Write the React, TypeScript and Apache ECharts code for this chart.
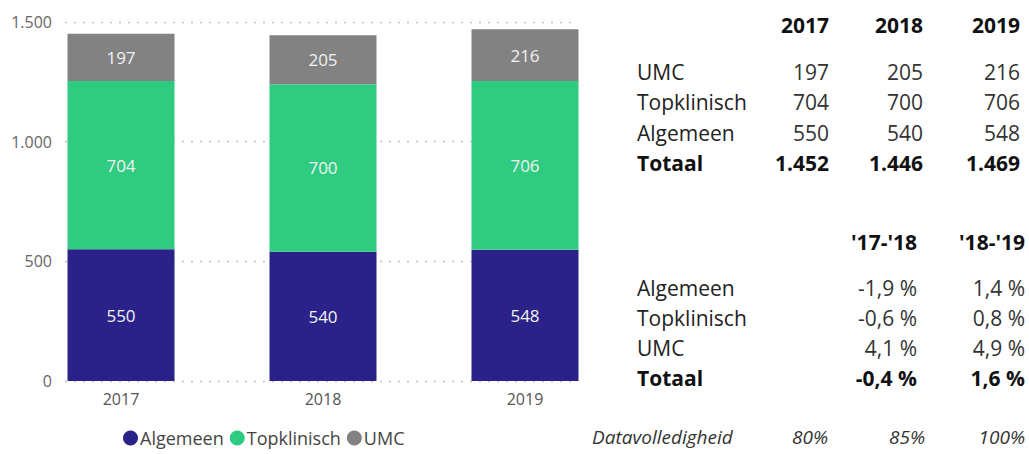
import React, { useEffect, useRef } from "react";
import * as echarts from "echarts";

const categories = ["2017", "2018", "2019"];
const algemeen = [550, 540, 548];
const topklinisch = [704, 700, 706];
const umc = [197, 205, 216];
const yTicks = [0, 500, 1000, 1500];

const tableYears = ["2017", "2018", "2019"];
const tableRows = ["UMC", "Topklinisch", "Algemeen"];
const tableRowValues = [
  ["197", "205", "216"],
  ["704", "700", "706"],
  ["550", "540", "548"],
];
const tableTotals = ["1.452", "1.446", "1.469"];

const changeHeaders = ["'17-'18", "'18-'19"];
const changeRows = ["Algemeen", "Topklinisch", "UMC"];
const changeValues = [
  ["-1,9 %", "1,4 %"],
  ["-0,6 %", "0,8 %"],
  ["4,1 %", "4,9 %"],
];
const changeTotals = ["-0,4 %", "1,6 %"];
const completenessLabel = "Datavolledigheid";
const completeness = ["80%", "85%", "100%"];

const FONT = "'Open Sans', 'Noto Sans', sans-serif";
const COLORS = ["#2a2288", "#2ecb80", "#828282"];

export default function App() {
  const ref = useRef<HTMLDivElement>(null);
  useEffect(() => {
    if (!ref.current) return;
    const chart = echarts.init(ref.current, undefined, { renderer: "svg" });

    const graphics: any[] = [];
    const txt = (x: number, y: number, text: string, opts: any = {}) =>
      graphics.push({
        type: "text",
        x,
        y,
        style: {
          text,
          fontStyle: opts.italic ? "italic" : "normal",
          fontWeight: opts.weight || "normal",
          fontSize: opts.size || 21,
          fontFamily: FONT,
          fill: opts.color || "#222",
          align: opts.align || "left",
          verticalAlign: "middle",
        },
      });

    const colRight = [829, 923, 1020];
    const labelX = 637;
    tableYears.forEach((y, i) => txt(colRight[i], 25, y, { weight: "bold", align: "right", color: "#111" }));
    const rowY = [72, 102, 133];
    tableRows.forEach((r, ri) => {
      txt(labelX, rowY[ri], r, { color: "#222" });
      tableRowValues[ri].forEach((v, ci) => txt(colRight[ci], rowY[ri], v, { align: "right", color: "#333" }));
    });
    txt(labelX, 163, "Totaal", { weight: "bold", color: "#111" });
    tableTotals.forEach((v, ci) => txt(colRight[ci], 163, v, { weight: "bold", align: "right", color: "#111" }));

    const chRight = [917, 1025];
    changeHeaders.forEach((h, i) => txt(chRight[i], 242, h, { weight: "bold", align: "right", color: "#111" }));
    const chY = [288, 318, 348];
    changeRows.forEach((r, ri) => {
      txt(labelX, chY[ri], r, { color: "#222" });
      changeValues[ri].forEach((v, ci) => txt(chRight[ci], chY[ri], v, { align: "right", color: "#333" }));
    });
    txt(labelX, 378, "Totaal", { weight: "bold", color: "#111" });
    changeTotals.forEach((v, ci) => txt(chRight[ci], 378, v, { weight: "bold", align: "right", color: "#111" }));

    txt(592, 437, completenessLabel, { italic: true, size: 19, color: "#333" });
    const compRight = [828, 925, 1025];
    completeness.forEach((v, ci) => txt(compRight[ci], 437, v, { italic: true, size: 19, align: "right", color: "#333" }));

    const labelStyle = {
      show: true,
      position: "inside" as const,
      color: "#f2f2f2",
      fontSize: 17,
      fontFamily: FONT,
    };

    chart.setOption({
      animation: false,
      textStyle: { fontFamily: FONT },
      color: COLORS,
      grid: [
        { left: 20, right: 403, top: 22, bottom: 73 },
        { left: 65, right: 454, top: 22, bottom: 73 },
      ],
      legend: {
        bottom: 2,
        left: 118,
        icon: "circle",
        itemWidth: 15,
        itemHeight: 15,
        itemGap: 6,
        textStyle: { fontSize: 18, color: "#444", fontFamily: FONT, padding: [0, 0, 0, -3] },
        data: ["Algemeen", "Topklinisch", "UMC"],
      },
      xAxis: [
        {
          type: "category",
          gridIndex: 0,
          data: categories,
          axisLine: { show: false },
          axisTick: { show: false },
          axisLabel: { color: "#555", fontSize: 16, margin: 10 },
        },
        {
          type: "category",
          gridIndex: 1,
          data: categories,
          show: false,
        },
      ],
      yAxis: [
        {
          type: "value",
          gridIndex: 0,
          min: 0,
          max: 1500,
          interval: 500,
          show: false,
          splitLine: { show: false },
        },
        {
          type: "value",
          gridIndex: 1,
          min: yTicks[0],
          max: yTicks[yTicks.length - 1],
          interval: 500,
          axisLine: { show: false },
          axisTick: { show: false },
          axisLabel: {
            color: "#666",
            fontSize: 16,
            margin: 13,
            formatter: (v: number) => v.toLocaleString("nl-NL"),
          },
          splitLine: { show: true, lineStyle: { color: "#c4c4c4", type: [2, 7], width: 1.3 } },
          z: 0,
        },
      ],
      series: [
        { name: "Algemeen", type: "bar", stack: "t", data: algemeen, barWidth: 107, xAxisIndex: 0, yAxisIndex: 0, label: labelStyle, z: 5 },
        { name: "Topklinisch", type: "bar", stack: "t", data: topklinisch, barWidth: 107, xAxisIndex: 0, yAxisIndex: 0, label: labelStyle, z: 5 },
        { name: "UMC", type: "bar", stack: "t", data: umc, barWidth: 107, xAxisIndex: 0, yAxisIndex: 0, label: labelStyle, z: 5 },
      ],
      graphic: graphics,
    });
    return () => chart.dispose();
  }, []);
  return <div ref={ref} style={{ width: 1029, height: 454, position: "absolute", left: 0, top: 0, background: "#fff" }} />;
}
